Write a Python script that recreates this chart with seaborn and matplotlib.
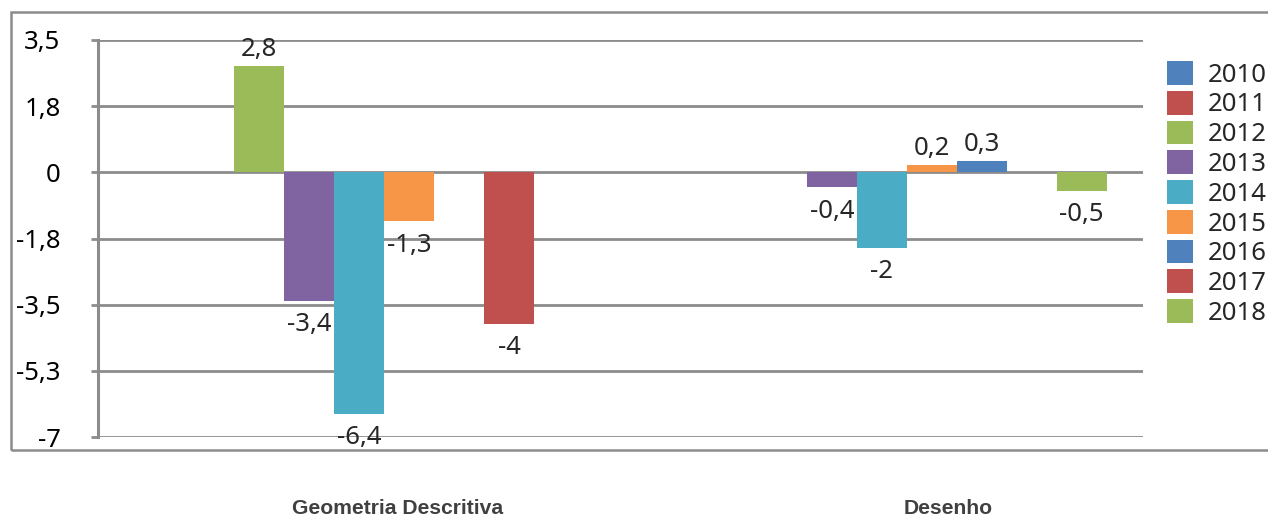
import numpy as np
import pandas as pd
import matplotlib
matplotlib.use("Agg")
import matplotlib.pyplot as plt
from matplotlib.patches import Patch, Rectangle
import seaborn as sns

# Variação por disciplina e por ano
categories = ["Geometria Descritiva", "Desenho"]
years = ["2010", "2011", "2012", "2013", "2014", "2015", "2016", "2017", "2018"]
geometria = [np.nan, np.nan, 2.8, -3.4, -6.4, -1.3, np.nan, -4.0, np.nan]
desenho = [np.nan, np.nan, np.nan, -0.4, -2.0, 0.2, 0.3, np.nan, -0.5]

ytick_values = [3.5, 1.75, 0, -1.75, -3.5, -5.25, -7]
ytick_labels = ["3,5", "1,8", "0", "-1,8", "-3,5", "-5,3", "-7"]

colors = ["#4F81BD", "#C0504D", "#9BBB59", "#8064A2", "#4BACC6",
          "#F79646", "#4F81BD", "#C0504D", "#9BBB59"]

df = pd.DataFrame({
    "disciplina": np.repeat(categories, len(years)),
    "ano": years * len(categories),
    "valor": geometria + desenho,
})

sns.set_theme(style="white")
plt.rcParams["font.family"] = ["Noto Sans", "DejaVu Sans"]

W, H = 1268, 519
fig = plt.figure(figsize=(W / 100, H / 100), dpi=100)
ax = fig.add_axes([98 / W, 1 - 437 / H, (1143 - 98) / W, (437 - 40) / H])

sns.barplot(data=df, x="disciplina", y="valor", hue="ano",
            order=categories, hue_order=years, palette=colors,
            width=0.861, errorbar=None, saturation=1, linewidth=0,
            legend=False, ax=ax)

ax.set_xlim(-0.5, 1.5)
ax.set_ylim(-7, 3.5)
ax.set_xlabel("")
ax.set_ylabel("")

grid_color = "#8C8C8C"
ax.set_yticks(ytick_values)
ax.set_yticklabels(ytick_labels, fontsize=18.5, color="black")
ax.tick_params(axis="y", length=5, width=2, color=grid_color, pad=22, left=True)
ax.set_xticks([])
for y in ytick_values:
    ax.axhline(y, color=grid_color, lw=2, zorder=0.5)
for side in ["top", "right", "bottom"]:
    ax.spines[side].set_visible(False)
ax.spines["left"].set_color(grid_color)
ax.spines["left"].set_linewidth(2.2)


def fmt(v):
    return f"{v:g}".replace(".", ",")


for cont in ax.containers:
    vals = [b.get_height() for b in cont]
    pos = [fmt(v) if (np.isfinite(v) and v > 0) else "" for v in vals]
    neg = [fmt(v) if (np.isfinite(v) and v < 0) else "" for v in vals]
    ax.bar_label(cont, labels=pos, padding=3, fontsize=18.5)
    ax.bar_label(cont, labels=neg, padding=8, fontsize=18.5)

# Category names below the plot
name_pos = [0.074, 1.127]
for x, name in zip(name_pos, categories):
    ax.text(x, -0.181, name, transform=ax.get_xaxis_transform(),
            ha="center", va="center", fontsize=15.2, fontweight="bold",
            color="#404040", family="Liberation Sans")

handles = [Patch(facecolor=c, edgecolor="none") for c in colors]
fig.legend(handles, years, loc="upper left",
           bbox_to_anchor=(1167 / W, 1 - 61 / H), frameon=False,
           fontsize=18.5, handlelength=1.0, handleheight=1.05,
           handletextpad=0.6, labelspacing=0.12, borderpad=0,
           borderaxespad=0)

# Chart border
fig.add_artist(Rectangle((11 / W, 1 - 450 / H), 1.2, (450 - 12) / H,
                         transform=fig.transFigure, fill=False,
                         edgecolor="#8C8C8C", lw=1.8, clip_on=False))

fig.savefig("out.png", dpi=100)
